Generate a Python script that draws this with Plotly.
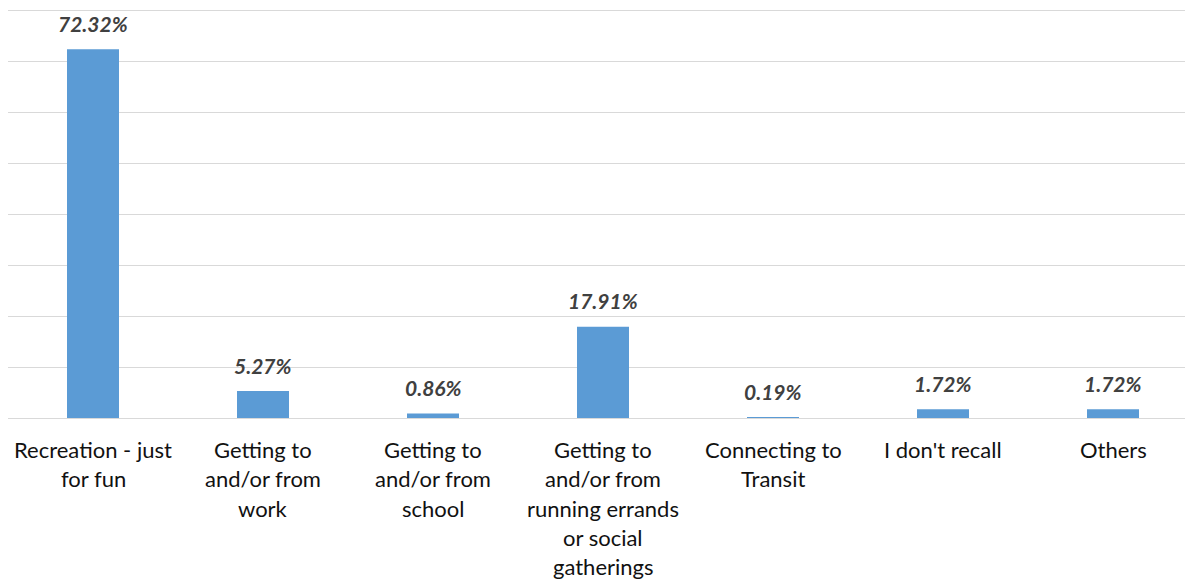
import plotly.graph_objects as go

categories = [
    "Recreation - just<br>for fun",
    "Getting to<br>and/or from<br>work",
    "Getting to<br>and/or from<br>school",
    "Getting to<br>and/or from<br>running errands<br>or social<br>gatherings",
    "Connecting to<br>Transit",
    "I don't recall",
    "Others",
]
values = [72.32, 5.27, 0.86, 17.91, 0.19, 1.72, 1.72]
value_labels = ["72.32%", "5.27%", "0.86%", "17.91%", "0.19%", "1.72%", "1.72%"]
y_ticks = [0, 10, 20, 30, 40, 50, 60, 70, 80]

# page body has an 8px margin, so the figure starts at (8, 8) on screen
W, H = 1185, 574
ML, MR, MT, MB = 0, 0, 1, 163.5
plot_w = W - ML - MR
cat_px = 170.0
y_top = 80.2

x_idx = list(range(len(categories)))

fig = go.Figure()
fig.add_trace(go.Bar(
    x=x_idx, y=values,
    marker=dict(color="#5b9bd5", line=dict(width=0)),
    width=52 / cat_px,
    hoverinfo="skip",
))

annotations = []
for i, (v, lab) in enumerate(zip(values, value_labels)):
    annotations.append(dict(
        x=i, y=v, xref="x", yref="y", text=f"<b><i>{lab}</i></b>",
        showarrow=False, yanchor="middle", xanchor="center", yshift=26,
        font=dict(family="Lato, 'Open Sans', sans-serif", size=21, color="#404040"),
    ))
for i, cat in enumerate(categories):
    for j, line in enumerate(cat.split("<br>")):
        annotations.append(dict(
            x=i, y=0, xref="x", yref="paper", text=line,
            showarrow=False, yanchor="middle", xanchor="center",
            yshift=-31.5 - 29.3 * j,
            font=dict(family="Lato, 'Open Sans', sans-serif", size=22, color="#111111"),
        ))

fig.update_layout(
    width=W, height=H,
    margin=dict(l=ML, r=MR, t=MT, b=MB, autoexpand=False),
    paper_bgcolor="white", plot_bgcolor="white",
    showlegend=False,
    annotations=annotations,
    xaxis=dict(
        range=[-0.5, -0.5 + plot_w / cat_px],
        showticklabels=False, showgrid=False, zeroline=False,
        showline=False, ticks="",
    ),
    yaxis=dict(
        range=[0, y_top], tickvals=y_ticks, showticklabels=False,
        showgrid=True, gridcolor="#d9d9d9", gridwidth=1.3,
        zeroline=True, zerolinecolor="#d9d9d9", zerolinewidth=1.3,
        showline=False, ticks="",
    ),
)

fig.write_html("out.html")
